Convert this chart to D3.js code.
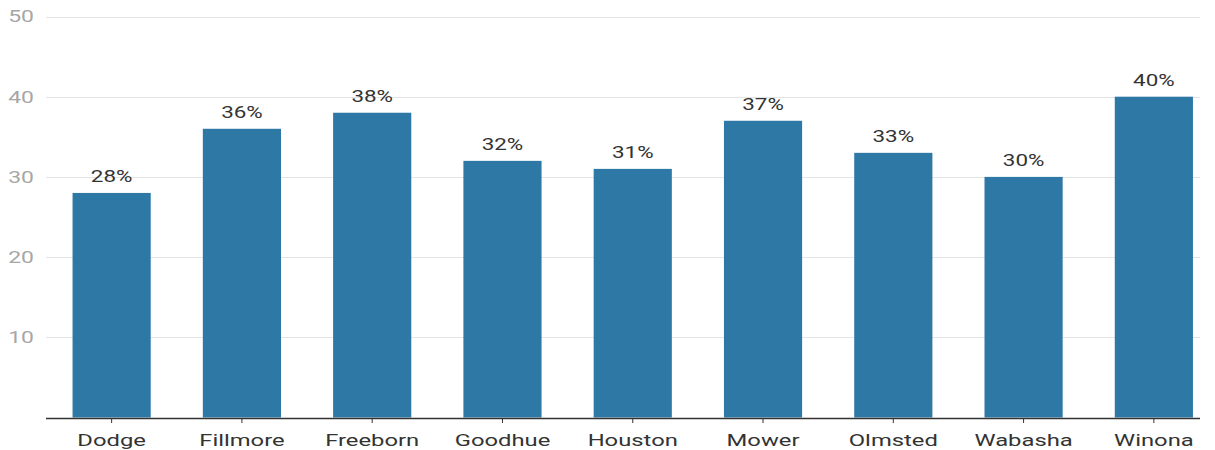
<!DOCTYPE html>
<html>
<head>
<meta charset="utf-8">
<script src="https://cdn.jsdelivr.net/npm/d3@7"></script>
<style>
  body { margin: 0; background: #fff; }
  text { font-family: Roboto, "Noto Sans", sans-serif; }
</style>
</head>
<body>
<div class="chart"></div>
<script>
//Data
var counties = ["Dodge", "Fillmore", "Freeborn", "Goodhue", "Houston", "Mower", "Olmsted", "Wabasha", "Winona"];
var values = [28, 36, 38, 32, 31, 37, 33, 30, 40];
var yTicks = [10, 20, 30, 40, 50];

//Width and height
var w = 1215;
var h = 450;

var svg = d3.select(".chart")
    .append("svg")
    .attr("width", w)
    .attr("height", h);

//Scales
var xScale = d3.scaleBand()
    .domain(counties)
    .range([46.5, 1219])
    .paddingInner(0.4)
    .paddingOuter(0.2);

var yScale = d3.scaleLinear()
    .domain([0, 50])
    .range([417.5, 16.5]);

//Gridlines
svg.append("g")
    .selectAll("line")
    .data(yTicks)
    .enter()
    .append("line")
    .attr("x1", 46)
    .attr("x2", 1200)
    .attr("y1", d => Math.round(yScale(d)) + 0.5)
    .attr("y2", d => Math.round(yScale(d)) + 0.5)
    .attr("stroke", "#e4e4e4")
    .attr("stroke-width", 1);

//Y labels (text is drawn a bit wide, like the reference)
svg.append("g")
    .selectAll("text")
    .data(yTicks)
    .enter()
    .append("text")
    .attr("transform", d => "translate(34," + yScale(d) + ") scale(1.35,1)")
    .attr("dy", "0.35em")
    .attr("text-anchor", "end")
    .attr("fill", "#a6a6a6")
    .style("font-size", "17px")
    .text(d => d);

//Bars
svg.selectAll(".bar")
    .data(values)
    .enter()
    .append("rect")
    .attr("class", "bar")
    .attr("x", (d, i) => xScale(counties[i]))
    .attr("y", d => yScale(d))
    .attr("width", xScale.bandwidth())
    .attr("height", d => yScale(0) - yScale(d))
    .attr("fill", "#2e78a6");

//Value labels
svg.selectAll(".val")
    .data(values)
    .enter()
    .append("text")
    .attr("class", "val")
    .attr("transform", (d, i) => "translate(" + (xScale(counties[i]) + xScale.bandwidth() / 2) + "," + (yScale(d) - 11) + ") scale(1.4,1)")
    .attr("text-anchor", "middle")
    .attr("fill", "#333")
    .style("font-size", "16px")
    .text(d => d + "%");

//X axis
var xAxis = d3.axisBottom(xScale).tickSize(5).tickPadding(11);
var gx = svg.append("g")
    .attr("transform", "translate(0, 418)")
    .call(xAxis);
gx.select(".domain").attr("d", "M46,0.5H1200").attr("stroke", "#333").attr("stroke-width", 1.5);
gx.selectAll(".tick line").attr("stroke", "#333");
gx.selectAll(".tick text")
    .attr("fill", "#333")
    .attr("transform", "scale(1.4,1)")
    .style("font-size", "17px")
    .style("font-family", "Roboto, 'Noto Sans', sans-serif");
</script>
</body>
</html>
